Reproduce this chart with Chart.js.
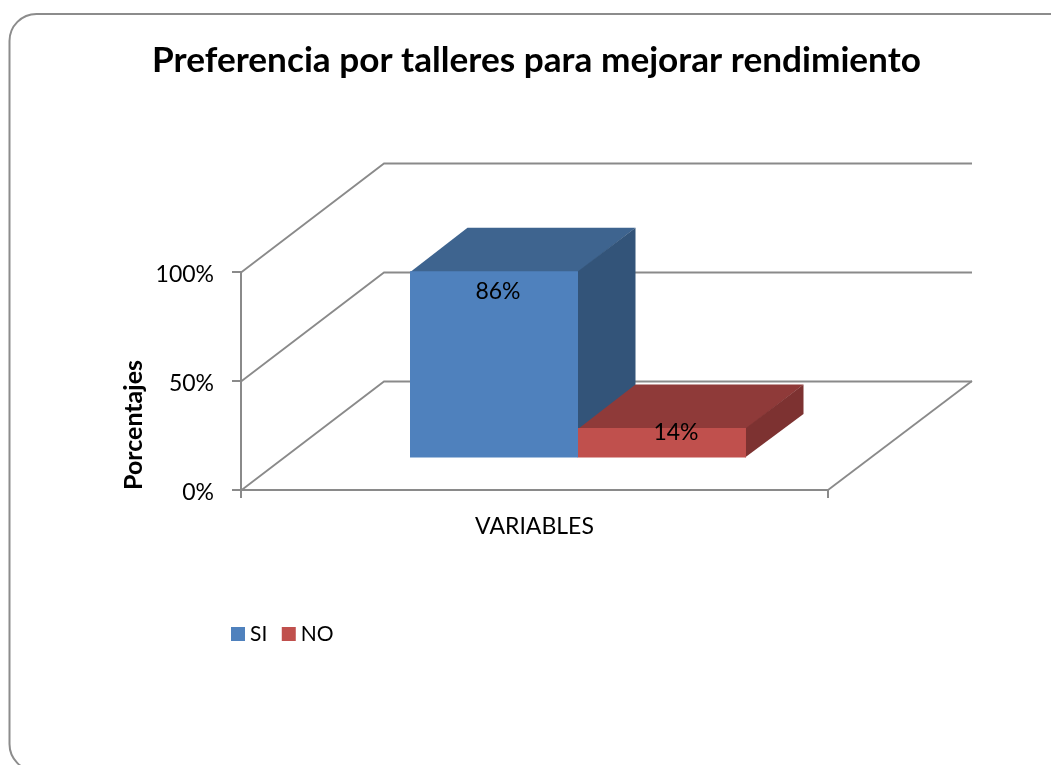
<!DOCTYPE html>
<html><head><meta charset="utf-8">
<style>html,body{margin:0;padding:0;background:#fff}canvas{display:block}</style>
<script src="https://cdn.jsdelivr.net/npm/chart.js@4"></script>
</head><body>
<div style="width:1051px;height:765px"><canvas id="c" width="1051" height="765"></canvas></div>
<script>
const titleText = 'Preferencia por talleres para mejorar rendimiento';
const categories = ['VARIABLES'];
const seriesNames = ['SI', 'NO'];
const siValues = [86];
const noValues = [14];
const yTicks = [0, 50, 100];
const yTitle = 'Porcentajes';

const FONT = 'Lato';
const GRID = '#8a8a8a';
const WALL = {dx: 143, dy: -109};
const BAR_SHIFT = {dx: 43.5, dy: -31.5};
const BAR_DEPTH = {dx: 57.5, dy: -43.5};
const FACES = [{top: '#3e648f', side: '#335479'}, {top: '#8f3a39', side: '#7d3231'}];
const LABEL_OFFSET = [{x: 4, y: 20.5}, {x: 14, y: 4.5}];

function poly(ctx, pts, fill) {
  ctx.beginPath();
  pts.forEach((p, i) => i ? ctx.lineTo(p[0], p[1]) : ctx.moveTo(p[0], p[1]));
  ctx.closePath();
  ctx.fillStyle = fill;
  ctx.fill();
}

const frame3d = {
  id: 'frame3d',
  beforeDraw(chart) {
    const c = chart.ctx;
    c.save();
    c.fillStyle = '#fff';
    c.fillRect(0, 0, chart.width, chart.height);
    c.strokeStyle = '#8c8c8c';
    c.lineWidth = 2;
    c.beginPath();
    c.roundRect(9.5, 14, 1080, 757, 27);
    c.stroke();
    c.restore();
  },
  afterLayout(chart) {
    const lg = chart.legend;
    const pad = lg.options.labels.padding;
    lg.left = 236.5 - pad;
    lg.right = 900;
    lg.top = 603.5;
    const t = chart.titleBlock;
    t.left = 0;
    t.right = 1073;
  },
  beforeDatasetsDraw(chart) {
    const c = chart.ctx, {x, y} = chart.scales;
    const l = x.left, r = x.right;
    c.save();
    c.strokeStyle = GRID;
    c.lineWidth = 1.8;
    yTicks.forEach(v => {
      const py = Math.round(y.getPixelForValue(v)) + 0.5;
      c.beginPath();
      c.moveTo(l, py);
      c.lineTo(l + WALL.dx, py + WALL.dy);
      c.lineTo(r + WALL.dx + 1, py + WALL.dy);
      c.stroke();
    });
    const b = y.getPixelForValue(0);
    c.beginPath();
    c.moveTo(r, b);
    c.lineTo(r + WALL.dx + 1, b + WALL.dy);
    c.stroke();
    // depth faces of the bars, computed from the library's bar elements
    chart.data.datasets.forEach((ds, i) => {
      const bar = chart.getDatasetMeta(i).data[0];
      const p = bar.getProps(['x', 'y', 'base', 'width'], true);
      const x0 = p.x - p.width / 2 + BAR_SHIFT.dx, x1 = p.x + p.width / 2 + BAR_SHIFT.dx;
      const top = p.y + BAR_SHIFT.dy, bot = p.base + BAR_SHIFT.dy;
      const d = BAR_DEPTH;
      poly(c, [[x0, top + 1], [x0 + d.dx, top + d.dy], [x1 + d.dx, top + d.dy], [x1, top + 1]], FACES[i].top);
      poly(c, [[x1 - 1, top + 1], [x1, top], [x1 + d.dx, top + d.dy], [x1 + d.dx, bot + d.dy], [x1 - 1, bot]], FACES[i].side);
    });
    c.restore();
  },
  beforeDatasetDraw(chart) {
    chart.ctx.save();
    chart.ctx.translate(BAR_SHIFT.dx, BAR_SHIFT.dy);
  },
  afterDatasetDraw(chart) {
    chart.ctx.restore();
  },
  afterDatasetsDraw(chart) {
    const c = chart.ctx;
    c.save();
    c.fillStyle = '#000';
    c.font = '23px ' + FONT;
    c.textAlign = 'center';
    c.textBaseline = 'middle';
    chart.data.datasets.forEach((ds, i) => {
      const bar = chart.getDatasetMeta(i).data[0];
      const p = bar.getProps(['x', 'y'], true);
      c.fillText(ds.data[0] + '%', p.x + BAR_SHIFT.dx + LABEL_OFFSET[i].x, p.y + BAR_SHIFT.dy + LABEL_OFFSET[i].y);
    });
    c.restore();
  }
};

new Chart(document.getElementById('c'), {
  type: 'bar',
  plugins: [frame3d],
  data: {
    labels: categories,
    datasets: [
      {label: seriesNames[0], data: siValues, backgroundColor: '#4f81bd', borderWidth: 0},
      {label: seriesNames[1], data: noValues, backgroundColor: '#c0504d', borderWidth: 0}
    ]
  },
  options: {
    responsive: false,
    animation: false,
    layout: {padding: {left: 0, top: 0, right: 223, bottom: 0}},
    datasets: {bar: {categoryPercentage: 0.5724, barPercentage: 1, clip: false}},
    plugins: {
      tooltip: {enabled: false},
      title: {
        display: true, text: titleText, color: '#000',
        font: {family: FONT, size: 35.2, weight: 'bold'},
        padding: {top: 40, bottom: 190}
      },
      legend: {
        display: true, position: 'bottom', align: 'start',
        labels: {
          color: '#000', font: {family: FONT, size: 21},
          usePointStyle: true, pointStyle: 'rect',
          boxWidth: 3, boxHeight: 14, padding: 20
        }
      }
    },
    scales: {
      x: {
        grid: {drawOnChartArea: false, color: GRID, tickLength: 8, lineWidth: 2},
        border: {color: GRID, width: 2},
        ticks: {color: '#000', padding: 15, font: {family: FONT, size: 23}},
        afterFit(s) { s.height = 275 - (s.chart.legend ? s.chart.legend.height : 0); }
      },
      y: {
        min: 0, max: 100,
        afterBuildTicks(s) { s.ticks = yTicks.map(v => ({value: v})); },
        grid: {drawOnChartArea: false, color: GRID, tickLength: 9, lineWidth: 2},
        border: {color: GRID, width: 2},
        ticks: {color: '#000', padding: 18, labelOffset: 2.5, font: {family: FONT, size: 23}, callback: v => v + '%'},
        title: {display: true, text: yTitle, color: '#000', align: 'start', font: {family: FONT, size: 25, weight: 'bold'}, padding: {top: 119, bottom: 0}},
        afterFit(s) { s.width = 241; }
      }
    }
  }
});
</script>
</body></html>
